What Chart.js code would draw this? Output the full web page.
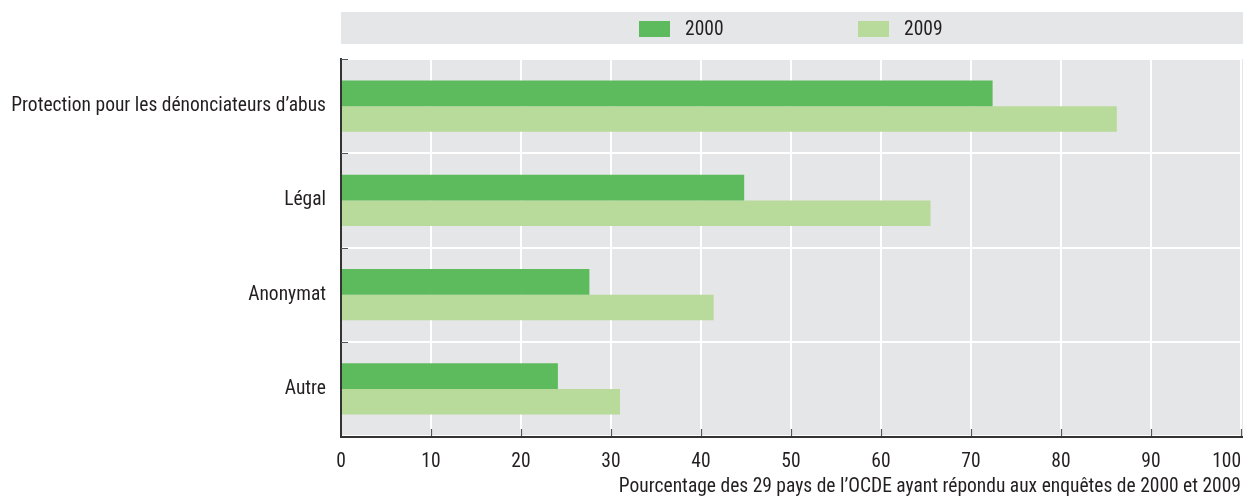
<!DOCTYPE html>
<html>
<head>
<meta charset="utf-8">
<script src="https://cdn.jsdelivr.net/npm/chart.js@4"></script>
<style>
  html, body { margin: 0; padding: 0; background: #ffffff; }
  #wrap { width: 1243px; height: 497px; }
</style>
</head>
<body>
<div id="wrap"><canvas id="c"></canvas></div>
<script>
// Mécanismes de protection des dénonciateurs d'abus (share of 29 OECD countries)
const categories = [
  'Protection pour les dénonciateurs d’abus',
  'Légal',
  'Anonymat',
  'Autre'
];
const seriesLabels = ['2000', '2009'];
const values2000 = [72.4, 44.8, 27.6, 24.1];
const values2009 = [86.2, 65.5, 41.4, 31.0];
const xTicks = [0, 10, 20, 30, 40, 50, 60, 70, 80, 90, 100];
const xTitle = 'Pourcentage des 29 pays de l’OCDE ayant répondu aux enquêtes de 2000 et 2009';

const colDark = '#5dbb5e';
const colLight = '#b8da9a';
const panelGrey = '#e5e6e7';
const ink = '#231f20';
const fontFamily = '"Liberation Sans Narrow", "Roboto Condensed", "DejaVu Sans Condensed", sans-serif';
const fontSize = 19.5;

// Grey panel behind the plot, plus the legend band on top
const panelPlugin = {
  id: 'panel',
  beforeDraw(chart) {
    const { ctx, chartArea: a } = chart;
    ctx.save();
    ctx.fillStyle = panelGrey;
    ctx.fillRect(a.left, a.top, chart.width - a.left, a.bottom - a.top);
    ctx.restore();
  },
  afterDraw(chart) {
    const { ctx, chartArea: a } = chart;
    const xs = chart.scales.x, ys = chart.scales.y;
    ctx.save();
    // legend band
    ctx.fillStyle = panelGrey;
    ctx.fillRect(a.left, 12, chart.width - a.left, 32);
    const items = chart.data.datasets.map(d => ({ label: d.label, color: d.backgroundColor }));
    const boxX = [639, 858];
    ctx.font = fontSize + 'px ' + fontFamily;
    ctx.textBaseline = 'middle';
    ctx.textAlign = 'left';
    items.forEach((it, i) => {
      ctx.fillStyle = it.color;
      ctx.fillRect(boxX[i], 21, 31, 16);
      ctx.fillStyle = ink;
      ctx.fillText(it.label, boxX[i] + 46, 30);
    });
    // axis lines
    ctx.strokeStyle = '#333333';
    ctx.lineWidth = 2;
    ctx.beginPath();
    ctx.moveTo(a.left, a.top - 1);
    ctx.lineTo(a.left, a.bottom + 1);
    ctx.lineTo(chart.width, a.bottom + 1);
    ctx.stroke();
    // inward tick marks
    ctx.lineWidth = 1.2;
    ctx.strokeStyle = '#555555';
    ctx.beginPath();
    xTicks.forEach(v => {
      if (v === 0) return;
      const px = Math.round(xs.getPixelForValue(v)) + 0.5;
      ctx.moveTo(px, a.bottom);
      ctx.lineTo(px, a.bottom - 7);
    });
    const n = categories.length;
    for (let i = 0; i < n; i++) {
      const py = Math.round(ys.getPixelForValue(i - 0.5)) + 0.5;
      ctx.moveTo(a.left, py);
      ctx.lineTo(a.left + 7, py);
    }
    ctx.stroke();
    ctx.restore();
  }
};

new Chart(document.getElementById('c'), {
  type: 'bar',
  data: {
    labels: categories,
    datasets: [
      { label: seriesLabels[0], data: values2000, backgroundColor: colDark },
      { label: seriesLabels[1], data: values2009, backgroundColor: colLight }
    ]
  },
  options: {
    indexAxis: 'y',
    responsive: true,
    maintainAspectRatio: false,
    animation: false,
    devicePixelRatio: 1,
    layout: { padding: { top: 59, right: 2, bottom: 0, left: 0 } },
    datasets: { bar: { categoryPercentage: 0.545, barPercentage: 1.0, borderWidth: 0 } },
    plugins: {
      legend: { display: false },
      tooltip: { enabled: false }
    },
    scales: {
      x: {
        type: 'linear',
        min: 0,
        max: 100,
        afterBuildTicks(scale) { scale.ticks = xTicks.map(v => ({ value: v })); },
        afterFit(scale) {
          scale.height = 61;
          scale.paddingLeft = 0;
          scale.paddingRight = 0;
        },
        border: { display: false },
        grid: { color: '#ffffff', lineWidth: 2, drawTicks: false },
        ticks: {
          padding: 14,
          color: ink,
          font: { family: fontFamily, size: fontSize },
          maxRotation: 0,
          // last label sits inside the right edge: pad it with figure spaces of equal width
          callback(value) {
            const s = String(value);
            return value === xTicks[xTicks.length - 1] ? s + '\u2007'.repeat(s.length) : s;
          }
        },
        title: {
          display: true,
          text: xTitle,
          align: 'end',
          color: ink,
          font: { family: fontFamily, size: fontSize, lineHeight: 1 },
          padding: { top: 0, bottom: 0 }
        }
      },
      y: {
        type: 'category',
        offset: true,
        afterFit(scale) { scale.width = 341; },
        border: { display: false },
        grid: { offset: true, color: '#ffffff', lineWidth: 2, drawTicks: false },
        ticks: {
          padding: 15,
          color: ink,
          font: { family: fontFamily, size: fontSize }
        }
      }
    }
  },
  plugins: [panelPlugin]
});
</script>
</body>
</html>
